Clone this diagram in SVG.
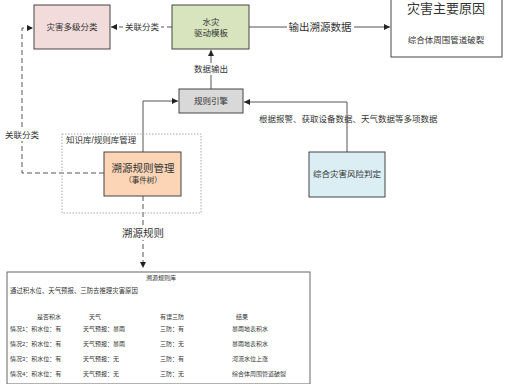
<svg xmlns="http://www.w3.org/2000/svg" width="512" height="384" viewBox="0 0 512 384">
<style>
text{font-family:"Liberation Sans","Noto Sans CJK SC",sans-serif;fill:#333;}
.box{stroke:#444;stroke-width:1;}
.ln{fill:none;stroke:#555;stroke-width:1;}
.dash{fill:none;stroke:#555;stroke-width:1;stroke-dasharray:5,3;}
.m{font-size:8.5px;}
.t{font-size:6px;}
.bg{fill:#fff;}
</style>
<defs>
<marker id="ah" viewBox="0 0 10 10" refX="10" refY="5" markerWidth="6" markerHeight="6" orient="auto" markerUnits="userSpaceOnUse">
<path d="M0,0 L10,5 L0,10 z" fill="#222"/>
</marker>
</defs>
<rect width="512" height="384" fill="#fff"/>

<g id="connectors">
<path class="dash" d="M172,27 H111" marker-end="url(#ah)"/>
<rect class="bg" x="123" y="21" width="38" height="12"/>
<text class="m" x="142" y="30" text-anchor="middle">关联分类</text>

<path class="ln" d="M249,27 H390" marker-end="url(#ah)"/>
<rect class="bg" x="287" y="20" width="67" height="14"/>
<text x="320" y="31" font-size="10.5" text-anchor="middle">输出溯源数据</text>

<path class="ln" d="M211,89 V50" marker-end="url(#ah)"/>
<rect class="bg" x="192" y="63" width="38" height="12"/>
<text class="m" x="211" y="72" text-anchor="middle">数据输出</text>

<path class="ln" d="M143,152 V101 H178" marker-end="url(#ah)"/>
<path class="ln" d="M347,152 V102 H244" marker-end="url(#ah)"/>
<text class="m" x="259" y="122">根据报警、获取设备数据、天气数据等多项数据</text>

<path class="dash" d="M104,173 H22 V28 H33" marker-end="url(#ah)"/>
<rect class="bg" x="4" y="129" width="37" height="12"/>
<text class="m" x="22" y="138" text-anchor="middle">关联分类</text>

<path class="dash" d="M143,196 V268" marker-end="url(#ah)"/>
<rect class="bg" x="120" y="226" width="46" height="14"/>
<text x="143" y="237" font-size="10.5" text-anchor="middle">溯源规则</text>
</g>

<g id="n-disaster-class">
<rect class="box" x="34" y="5" width="76" height="44" fill="#f2dcdb"/>
<text class="m" x="72" y="30" text-anchor="middle">灾害多级分类</text>
</g>

<g id="n-flood-template">
<rect class="box" x="172" y="5" width="77" height="44" fill="#d7e4bd"/>
<text class="m" x="211" y="25" text-anchor="middle">水灾</text>
<text class="m" x="211" y="36" text-anchor="middle">驱动模板</text>
</g>

<g id="n-main-cause">
<rect class="box" x="391" y="-2" width="111" height="59" fill="#fff"/>
<text x="446" y="13" font-size="13" text-anchor="middle">灾害主要原因</text>
<text class="m" x="446" y="43" text-anchor="middle">综合体周围管道破裂</text>
</g>

<g id="n-rule-engine">
<rect class="box" x="179" y="89" width="64" height="24" fill="#d9d9d9"/>
<text class="m" x="211" y="104" text-anchor="middle">规则引擎</text>
</g>

<g id="n-risk">
<rect class="box" x="309" y="152" width="76" height="45" fill="#dbeef3"/>
<text class="m" x="347" y="177" text-anchor="middle">综合灾害风险判定</text>
</g>

<g id="n-knowledge">
<rect x="62" y="134" width="139" height="79" fill="none" stroke="#aaa" stroke-width="1" stroke-dasharray="1.5,1.5"/>
<text class="m" x="66" y="143">知识库/规则库管理</text>
</g>

<g id="n-trace-rule">
<rect class="box" x="104" y="152" width="77" height="44" fill="#fbd5b5"/>
<text x="143" y="172" font-size="10.5" text-anchor="middle">溯源规则管理</text>
<text x="143" y="183" font-size="7.5" text-anchor="middle">（事件树）</text>
</g>

<g id="n-rule-base">
<rect x="7" y="272" width="303" height="112" fill="#fff" stroke="#666" stroke-width="1"/>
<text class="t" x="161" y="280" text-anchor="middle">溯源规则库</text>
<text x="10" y="293" font-size="6.4">通过积水位、天气预报、三防去推理灾害原因</text>
<text class="t" x="37" y="319">是否积水</text>
<text class="t" x="89" y="319">天气</text>
<text class="t" x="160" y="319">有误三防</text>
<text class="t" x="236" y="319">结果</text>
<text class="t" x="10" y="331">情况1：积水位：有</text>
<text class="t" x="83" y="331">天气预报：暴雨</text>
<text class="t" x="160" y="331">三防：有</text>
<text class="t" x="232" y="331">暴雨地表积水</text>
<text class="t" x="10" y="346">情况2：积水位：有</text>
<text class="t" x="83" y="346">天气预报：暴雨</text>
<text class="t" x="160" y="346">三防：无</text>
<text class="t" x="232" y="346">暴雨地表积水</text>
<text class="t" x="10" y="361">情况3：积水位：有</text>
<text class="t" x="83" y="361">天气预报：无</text>
<text class="t" x="160" y="361">三防：有</text>
<text class="t" x="232" y="361">河流水位上涨</text>
<text class="t" x="10" y="376">情况4：积水位：有</text>
<text class="t" x="83" y="376">天气预报：无</text>
<text class="t" x="160" y="376">三防：无</text>
<text class="t" x="232" y="376">综合体周围管道破裂</text>
</g>
</svg>
